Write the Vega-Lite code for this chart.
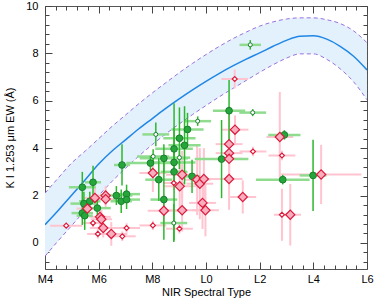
{
  "$schema": "https://vega.github.io/schema/vega-lite/v6.json",
  "width": 322,
  "height": 263,
  "autosize": "none",
  "padding": {"left": 45, "top": 6, "right": 7, "bottom": 30},
  "config": {
    "view": {"stroke": "#555", "strokeWidth": 1},
    "font": "Liberation Sans",
    "axis": {
      "grid": false, "domain": false, "labelFontSize": 11, "titleFontSize": 11,
      "titleFontWeight": "normal", "labelColor": "#000", "titleColor": "#000",
      "tickColor": "#444", "labelOverlap": false, "labelBound": false, "labelFlush": false
    }
  },
  "datasets": {
    "curve": [
      {"x": 4, "lo": -0.56, "mid": 0.77, "hi": 2.1},
      {"x": 4.5, "lo": 0.1, "mid": 1.38, "hi": 2.75},
      {"x": 5, "lo": 0.74, "mid": 2.02, "hi": 3.38},
      {"x": 5.5, "lo": 1.38, "mid": 2.67, "hi": 3.88},
      {"x": 6, "lo": 2.0, "mid": 3.33, "hi": 4.4},
      {"x": 6.5, "lo": 2.6, "mid": 3.88, "hi": 4.92},
      {"x": 7, "lo": 3.15, "mid": 4.35, "hi": 5.4},
      {"x": 7.5, "lo": 3.67, "mid": 4.82, "hi": 5.88},
      {"x": 8, "lo": 4.15, "mid": 5.25, "hi": 6.33},
      {"x": 8.5, "lo": 4.6, "mid": 5.68, "hi": 6.76},
      {"x": 9, "lo": 5.02, "mid": 6.08, "hi": 7.18},
      {"x": 9.5, "lo": 5.42, "mid": 6.46, "hi": 7.58},
      {"x": 10, "lo": 5.8, "mid": 6.82, "hi": 7.95},
      {"x": 10.5, "lo": 6.17, "mid": 7.16, "hi": 8.3},
      {"x": 11, "lo": 6.52, "mid": 7.47, "hi": 8.62},
      {"x": 11.5, "lo": 6.86, "mid": 7.76, "hi": 8.9},
      {"x": 12, "lo": 7.2, "mid": 8.02, "hi": 9.15},
      {"x": 12.5, "lo": 7.52, "mid": 8.3, "hi": 9.33},
      {"x": 13, "lo": 7.8, "mid": 8.55, "hi": 9.45},
      {"x": 13.5, "lo": 7.98, "mid": 8.72, "hi": 9.5},
      {"x": 14, "lo": 7.98, "mid": 8.74, "hi": 9.5},
      {"x": 14.5, "lo": 7.75, "mid": 8.6, "hi": 9.42},
      {"x": 15, "lo": 7.35, "mid": 8.3, "hi": 9.26},
      {"x": 15.5, "lo": 6.8, "mid": 7.88, "hi": 8.95},
      {"x": 16, "lo": 6.04, "mid": 7.3, "hi": 8.45}
    ],
    "g": [
      {"x": 5.39, "y": 2.35, "ex": 0.5, "ey": 0.65, "o": false},
      {"x": 5.79, "y": 2.56, "ex": 0.3, "ey": 0.7, "o": false},
      {"x": 5.45, "y": 1.66, "ex": 0.5, "ey": 0.5, "o": false},
      {"x": 5.39, "y": 1.26, "ex": 0.4, "ey": 0.5, "o": false},
      {"x": 5.48, "y": 1.15, "ex": 0.3, "ey": 0.6, "o": false},
      {"x": 5.67, "y": 1.76, "ex": 0.4, "ey": 0.4, "o": false},
      {"x": 5.95, "y": 1.47, "ex": 0.5, "ey": 0.4, "o": false},
      {"x": 6.87, "y": 3.29, "ex": 0.3, "ey": 0.87, "o": false},
      {"x": 6.66, "y": 2.0, "ex": 0.6, "ey": 0.4, "o": false},
      {"x": 6.84, "y": 1.76, "ex": 0.4, "ey": 0.5, "o": false},
      {"x": 7.04, "y": 2.06, "ex": 0.5, "ey": 0.4, "o": false},
      {"x": 7.04, "y": 1.83, "ex": 0.5, "ey": 0.4, "o": false},
      {"x": 7.93, "y": 3.37, "ex": 0.9, "ey": 0.3, "o": false},
      {"x": 8.24, "y": 2.67, "ex": 0.5, "ey": 0.9, "o": false},
      {"x": 8.43, "y": 3.57, "ex": 0.9, "ey": 0.6, "o": false},
      {"x": 8.43, "y": 1.83, "ex": 0.5, "ey": 1.7, "o": false},
      {"x": 8.81, "y": 3.97, "ex": 0.7, "ey": 0.9, "o": false},
      {"x": 8.81, "y": 3.4, "ex": 0.8, "ey": 0.8, "o": false},
      {"x": 8.81, "y": 3.0, "ex": 0.5, "ey": 2.9, "o": false},
      {"x": 9.01, "y": 4.42, "ex": 0.6, "ey": 1.3, "o": false},
      {"x": 9.2, "y": 4.12, "ex": 0.6, "ey": 1.65, "o": false},
      {"x": 9.31, "y": 4.79, "ex": 0.6, "ey": 0.7, "o": false},
      {"x": 9.48, "y": 2.81, "ex": 0.3, "ey": 0.7, "o": false},
      {"x": 10.58, "y": 3.54, "ex": 1.0, "ey": 1.65, "o": false},
      {"x": 10.86, "y": 5.58, "ex": 0.6, "ey": 1.3, "o": false},
      {"x": 12.92, "y": 4.56, "ex": 0.6, "ey": 0.2, "o": false},
      {"x": 12.86, "y": 2.67, "ex": 1.0, "ey": 0.2, "o": false},
      {"x": 13.99, "y": 2.85, "ex": 0.5, "ey": 1.5, "o": false},
      {"x": 11.65, "y": 8.36, "ex": 0.4, "ey": 0.2, "o": true},
      {"x": 11.74, "y": 5.5, "ex": 0.5, "ey": 0.15, "o": true},
      {"x": 9.69, "y": 5.14, "ex": 0.5, "ey": 0.2, "o": true},
      {"x": 8.13, "y": 4.58, "ex": 0.5, "ey": 0.5, "o": true},
      {"x": 8.03, "y": 3.65, "ex": 0.6, "ey": 0.3, "o": true},
      {"x": 8.8, "y": 0.84, "ex": 0.5, "ey": 0.8, "o": true},
      {"x": 9.01, "y": 3.6, "ex": 0.4, "ey": 0.3, "o": true}
    ],
    "r": [
      {"x": 5.86, "y": 1.9, "ex": 0.4, "ey": 0.5, "o": false},
      {"x": 5.58, "y": 1.45, "ex": 0.4, "ey": 0.4, "o": false},
      {"x": 6.26, "y": 2.0, "ex": 0.4, "ey": 0.4, "o": false},
      {"x": 6.26, "y": 1.85, "ex": 0.4, "ey": 0.4, "o": false},
      {"x": 6.05, "y": 1.1, "ex": 0.4, "ey": 0.4, "o": false},
      {"x": 6.1, "y": 1.0, "ex": 0.4, "ey": 0.4, "o": false},
      {"x": 6.17, "y": 0.63, "ex": 0.5, "ey": 0.4, "o": false},
      {"x": 6.47, "y": 0.38, "ex": 0.6, "ey": 0.5, "o": false},
      {"x": 8.02, "y": 2.95, "ex": 0.5, "ey": 0.8, "o": false},
      {"x": 8.43, "y": 1.36, "ex": 0.6, "ey": 0.7, "o": false},
      {"x": 9.11, "y": 2.88, "ex": 0.6, "ey": 1.0, "o": false},
      {"x": 9.02, "y": 2.39, "ex": 0.6, "ey": 0.9, "o": false},
      {"x": 9.11, "y": 1.38, "ex": 0.6, "ey": 0.9, "o": false},
      {"x": 9.67, "y": 2.67, "ex": 0.5, "ey": 1.5, "o": false},
      {"x": 9.77, "y": 2.5, "ex": 0.5, "ey": 1.5, "o": false},
      {"x": 9.92, "y": 2.7, "ex": 0.5, "ey": 1.3, "o": false},
      {"x": 9.87, "y": 1.69, "ex": 0.5, "ey": 1.1, "o": false},
      {"x": 9.98, "y": 1.38, "ex": 0.5, "ey": 1.1, "o": false},
      {"x": 10.86, "y": 4.17, "ex": 0.5, "ey": 1.6, "o": false},
      {"x": 10.86, "y": 3.79, "ex": 0.5, "ey": 1.4, "o": false},
      {"x": 10.86, "y": 3.55, "ex": 0.5, "ey": 1.2, "o": false},
      {"x": 10.86, "y": 2.7, "ex": 0.5, "ey": 1.3, "o": false},
      {"x": 11.08, "y": 4.78, "ex": 0.5, "ey": 0.6, "o": false},
      {"x": 11.37, "y": 1.94, "ex": 0.5, "ey": 0.7, "o": false},
      {"x": 12.75, "y": 4.47, "ex": 0.5, "ey": 1.9, "o": false},
      {"x": 13.14, "y": 1.19, "ex": 0.4, "ey": 1.3, "o": false},
      {"x": 14.29, "y": 2.89, "ex": 1.5, "ey": 1.25, "o": false},
      {"x": 4.79, "y": 0.73, "ex": 0.6, "ey": 0.1, "o": true},
      {"x": 5.79, "y": 0.84, "ex": 0.4, "ey": 0.2, "o": true},
      {"x": 5.97, "y": 0.38, "ex": 0.4, "ey": 0.2, "o": true},
      {"x": 7.04, "y": 0.63, "ex": 0.5, "ey": 0.2, "o": true},
      {"x": 6.88, "y": 0.28, "ex": 0.5, "ey": 0.2, "o": true},
      {"x": 8.02, "y": 0.74, "ex": 0.5, "ey": 0.2, "o": true},
      {"x": 9.01, "y": 0.6, "ex": 0.5, "ey": 0.2, "o": true},
      {"x": 8.8, "y": 2.53, "ex": 0.4, "ey": 0.3, "o": true},
      {"x": 11.07, "y": 6.92, "ex": 0.5, "ey": 0.4, "o": true},
      {"x": 11.75, "y": 3.86, "ex": 0.5, "ey": 0.2, "o": true},
      {"x": 12.83, "y": 3.69, "ex": 0.5, "ey": 0.2, "o": true},
      {"x": 12.83, "y": 1.19, "ex": 0.3, "ey": 1.1, "o": true}
    ]
  },
  "resolve": {"axis": {"x": "independent", "y": "independent"}},
  "layer": [
    {
      "data": {"name": "curve"},
      "mark": {"type": "area", "color": "#e2f1fc", "interpolate": "monotone", "clip": true},
      "encoding": {
        "x": {"field": "x", "type": "quantitative", "scale": {"domain": [4, 16], "nice": false, "zero": false},
          "axis": {"orient": "bottom", "title": "NIR Spectral Type", "ticks": false,
            "values": [4,6,8,10,12,14,16],
            "labelExpr": "datum.value < 10 ? 'M' + datum.value : 'L' + (datum.value - 10)",
            "labelPadding": 4, "titlePadding": 2}},
        "y": {"field": "lo", "type": "quantitative", "scale": {"domain": [-1.1, 10], "nice": false, "zero": false},
          "axis": {"orient": "left", "title": "K I 1.253 μm EW (Å)", "ticks": false,
            "values": [0,2,4,6,8,10],
            "labelPadding": 7, "titlePadding": 10}},
        "y2": {"field": "hi"}
      }
    },
    {
      "data": {"name": "curve"},
      "mark": {"type": "line", "color": "#9a70e0", "strokeDash": [4, 3], "strokeWidth": 1, "interpolate": "monotone", "clip": true},
      "encoding": {
        "x": {"field": "x", "type": "quantitative",
          "axis": {"orient": "bottom", "title": null, "labels": false,
            "values": [4,4.4,4.8,5.2,5.6,6,6.4,6.8,7.2,7.6,8,8.4,8.8,9.2,9.6,10,10.4,10.8,11.2,11.6,12,12.4,12.8,13.2,13.6,14,14.4,14.8,15.2,15.6,16],
            "tickSize": {"condition": {"test": "datum.value % 2 === 0", "value": -7}, "value": -4}}},
        "y": {"field": "hi", "type": "quantitative",
          "axis": {"orient": "left", "title": null, "labels": false,
            "values": [-0.8,-0.4,0,0.4,0.8,1.2,1.6,2,2.4,2.8,3.2,3.6,4,4.4,4.8,5.2,5.6,6,6.4,6.8,7.2,7.6,8,8.4,8.8,9.2,9.6,10],
            "tickSize": {"condition": {"test": "datum.value % 2 === 0", "value": -7}, "value": -4}}}
      }
    },
    {
      "data": {"name": "curve"},
      "mark": {"type": "line", "color": "#9a70e0", "strokeDash": [4, 3], "strokeWidth": 1, "interpolate": "monotone", "clip": true},
      "encoding": {
        "x": {"field": "x", "type": "quantitative",
          "axis": {"orient": "top", "title": null, "labels": false,
            "values": [4,4.4,4.8,5.2,5.6,6,6.4,6.8,7.2,7.6,8,8.4,8.8,9.2,9.6,10,10.4,10.8,11.2,11.6,12,12.4,12.8,13.2,13.6,14,14.4,14.8,15.2,15.6,16],
            "tickSize": {"condition": {"test": "datum.value % 2 === 0", "value": -7}, "value": -4}}},
        "y": {"field": "lo", "type": "quantitative",
          "axis": {"orient": "right", "title": null, "labels": false,
            "values": [-0.8,-0.4,0,0.4,0.8,1.2,1.6,2,2.4,2.8,3.2,3.6,4,4.4,4.8,5.2,5.6,6,6.4,6.8,7.2,7.6,8,8.4,8.8,9.2,9.6,10],
            "tickSize": {"condition": {"test": "datum.value % 2 === 0", "value": -7}, "value": -4}}}
      }
    },
    {
      "data": {"name": "curve"},
      "mark": {"type": "line", "color": "#1f86e6", "strokeWidth": 1.5, "interpolate": "monotone", "clip": true},
      "encoding": {
        "x": {"field": "x", "type": "quantitative", "axis": null},
        "y": {"field": "mid", "type": "quantitative", "axis": null}
      }
    },
    {
      "data": {"name": "r"},
      "mark": {"type": "errorbar", "color": "#ffc4cf", "thickness": 2},
      "encoding": {
        "x": {"field": "x", "type": "quantitative", "axis": null},
        "xError": {"field": "ex"},
        "y": {"field": "y", "type": "quantitative", "axis": null}
      }
    },
    {
      "data": {"name": "r"},
      "mark": {"type": "errorbar", "color": "#ffc4cf", "thickness": 2},
      "encoding": {
        "y": {"field": "y", "type": "quantitative", "axis": null},
        "yError": {"field": "ey"},
        "x": {"field": "x", "type": "quantitative", "axis": null}
      }
    },
    {
      "data": {"name": "g"},
      "mark": {"type": "errorbar", "color": "#8fdc8f", "thickness": 2.5},
      "encoding": {
        "x": {"field": "x", "type": "quantitative", "axis": null},
        "xError": {"field": "ex"},
        "y": {"field": "y", "type": "quantitative", "axis": null}
      }
    },
    {
      "data": {"name": "g"},
      "mark": {"type": "errorbar", "color": "#2cb82c", "thickness": 1.5},
      "encoding": {
        "y": {"field": "y", "type": "quantitative", "axis": null},
        "yError": {"field": "ey"},
        "x": {"field": "x", "type": "quantitative", "axis": null}
      }
    },
    {
      "data": {"name": "g"},
      "mark": {"type": "point", "shape": "circle", "filled": false, "strokeWidth": 1, "stroke": "#1b7f2f", "opacity": 1},
      "encoding": {
        "x": {"field": "x", "type": "quantitative", "axis": null},
        "y": {"field": "y", "type": "quantitative", "axis": null},
        "fill": {"condition": {"test": "datum.o", "value": "#ffffff"}, "value": "#25a53a"},
        "size": {"condition": {"test": "datum.o", "value": 16}, "value": 45}
      }
    },
    {
      "data": {"name": "r"},
      "mark": {"type": "point", "shape": "diamond", "filled": false, "strokeWidth": 1.2, "stroke": "#dc1a3c", "opacity": 1},
      "encoding": {
        "x": {"field": "x", "type": "quantitative", "axis": null},
        "y": {"field": "y", "type": "quantitative", "axis": null},
        "fill": {"condition": {"test": "datum.o", "value": "#ffffff"}, "value": "#f8aebf"},
        "size": {"condition": {"test": "datum.o", "value": 25}, "value": 85}
      }
    }
  ]
}
